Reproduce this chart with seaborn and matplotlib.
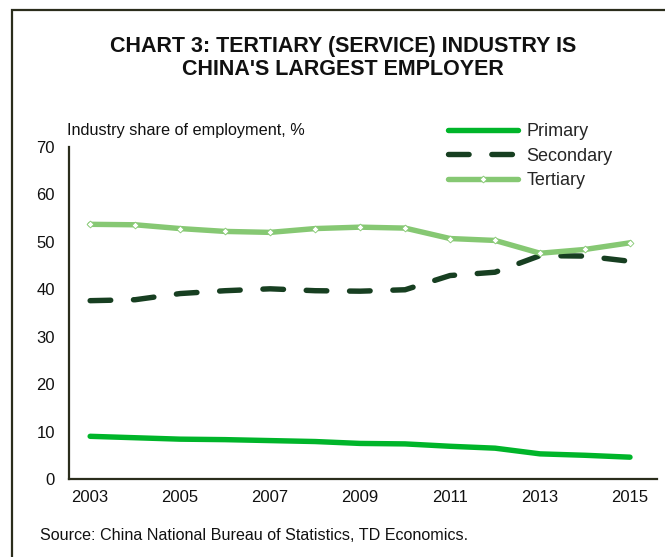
import pandas as pd
import matplotlib.pyplot as plt
import seaborn as sns
from matplotlib.patches import Rectangle
from matplotlib.lines import Line2D

years = list(range(2003, 2016))
primary = [9.0, 8.7, 8.4, 8.3, 8.1, 7.9, 7.5, 7.4, 6.9, 6.5, 5.3, 5.0, 4.6]
secondary = [37.6, 37.8, 39.1, 39.7, 40.1, 39.7, 39.6, 39.9, 42.9, 43.6, 47.1, 47.0, 45.9]
tertiary = [53.7, 53.6, 52.8, 52.2, 52.0, 52.8, 53.1, 52.9, 50.7, 50.3, 47.6, 48.4, 49.8]

df = pd.DataFrame({"year": years, "Primary": primary, "Secondary": secondary, "Tertiary": tertiary})

sns.set_theme(style="white")
plt.rcParams["font.family"] = ["Liberation Sans", "DejaVu Sans"]

c_prim = "#00b52a"
c_sec = "#173f21"
c_ter = "#86c873"
spine_c = "#2b2d1c"

fig = plt.figure(figsize=(6.65, 5.57), dpi=100)
ax = fig.add_axes([69 / 665, 1 - 479 / 557, (657 - 69) / 665, (479 - 147) / 557])

sns.lineplot(data=df, x="year", y="Primary", ax=ax, color=c_prim, linewidth=3.9,
             solid_capstyle="round")
sns.lineplot(data=df, x="year", y="Secondary", ax=ax, color=c_sec, linewidth=3.9,
             dash_capstyle="round")
ax.lines[-1].set_dashes((3.8, 4.2))
sns.lineplot(data=df, x="year", y="Tertiary", ax=ax, color=c_ter, linewidth=3.9,
             marker="D", markersize=3.5, markerfacecolor="white", markeredgecolor=c_ter,
             markeredgewidth=0.6, solid_capstyle="round")

ax.set_xlim(2002.53, 2015.6)
ax.set_ylim(0, 70)
ax.set_xticks(range(2003, 2016, 2))
ax.set_yticks(range(0, 71, 10))
ax.tick_params(axis="both", length=0, labelsize=12, colors="#111111")
ax.tick_params(axis="x", pad=8)
ax.tick_params(axis="y", pad=10)
ax.set_xlabel("")
ax.set_ylabel("")
for s in ["top", "right"]:
    ax.spines[s].set_visible(False)
for s in ["left", "bottom"]:
    ax.spines[s].set_color(spine_c)
    ax.spines[s].set_linewidth(1.6)

handles = [
    Line2D([], [], color=c_prim, linewidth=3.9, solid_capstyle="round"),
    Line2D([], [], color=c_sec, linewidth=3.9, dashes=(3.8, 4.2), dash_capstyle="round"),
    Line2D([], [], color=c_ter, linewidth=3.9, marker="D", markersize=3.5,
           markerfacecolor="white", markeredgecolor=c_ter, markeredgewidth=0.6,
           solid_capstyle="round"),
]
ax.legend(handles, ["Primary", "Secondary", "Tertiary"], loc="upper left",
          bbox_to_anchor=(0.632, 1.094), frameon=False, fontsize=13,
          handlelength=3.9, handletextpad=0.45, labelspacing=0.42, borderaxespad=0)

fig.text(67 / 665, 1 - 130 / 557, "Industry share of employment, %", fontsize=11.7,
         ha="left", va="center", color="#111111")
fig.text(343 / 665, 1 - 58 / 557, "CHART 3: TERTIARY (SERVICE) INDUSTRY IS\nCHINA'S LARGEST EMPLOYER",
         ha="center", va="center", fontsize=15.5, fontweight="bold",
         linespacing=1.15, color="#111111")
fig.text(40 / 665, 1 - 535 / 557, "Source: China National Bureau of Statistics, TD Economics.",
         fontsize=11.6, ha="left", va="center", color="#111111")

fig.patches.append(Rectangle((12 / 665, -0.1), 1.2, 1 - 10 / 557 + 0.1,
                             transform=fig.transFigure, fill=False,
                             edgecolor=spine_c, linewidth=1.6))

fig.savefig("out.png", dpi=100)
